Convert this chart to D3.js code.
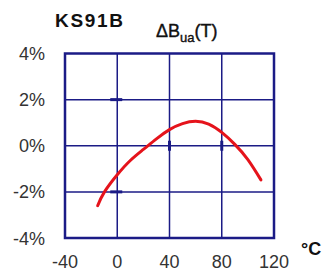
<!DOCTYPE html>
<html>
<head>
<meta charset="utf-8">
<script src="https://cdn.jsdelivr.net/npm/d3@7"></script>
<style>
  body { margin: 0; background: #fff; }
  text { font-family: "Liberation Sans", Arial, sans-serif; }
</style>
</head>
<body>
<div id="app"></div>
<script>
// curve
let temps  = [-15, -10, 0, 10, 20, 30, 40, 50, 60, 70, 80, 90, 100, 110];
let deltas = [-2.6, -2.02, -1.26, -0.64, -0.16, 0.3, 0.7, 0.96, 1.06, 0.94, 0.58, 0.06, -0.6, -1.48];
let xTicks = [-40, 0, 40, 80, 120];
let yTicks = [-4, -2, 0, 2, 4];

let width = 325, height = 272;
let gridColor = '#1b1b86';

let x = d3.scaleLinear().domain([-40, 120]).range([65, 274]);
let y = d3.scaleLinear().domain([-4, 4]).range([238, 53.5]);

let svg = d3.select('#app').append('svg')
    .attr('width', width)
    .attr('height', height);

// inner grid
svg.append('g').selectAll('line')
    .data(xTicks.slice(1, -1))
    .enter().append('line')
      .attr('x1', d => x(d)).attr('x2', d => x(d))
      .attr('y1', y(4)).attr('y2', y(-4))
      .style('stroke', gridColor).style('stroke-width', 1.5);

svg.append('g').selectAll('line')
    .data(yTicks.slice(1, -1))
    .enter().append('line')
      .attr('x1', x(-40)).attr('x2', x(120))
      .attr('y1', d => y(d)).attr('y2', d => y(d))
      .style('stroke', gridColor).style('stroke-width', 1.5);

// little tick marks on the zero axes
svg.append('g').selectAll('line')
    .data([-2, 2])
    .enter().append('line')
      .attr('x1', x(0) - 7).attr('x2', x(0) + 5)
      .attr('y1', d => y(d)).attr('y2', d => y(d))
      .style('stroke', gridColor).style('stroke-width', 3);

svg.append('g').selectAll('line')
    .data([40, 80])
    .enter().append('line')
      .attr('x1', d => x(d)).attr('x2', d => x(d))
      .attr('y1', y(0) - 5).attr('y2', y(0) + 5)
      .style('stroke', gridColor).style('stroke-width', 3);

// frame
svg.append('rect')
    .attr('x', x(-40)).attr('y', y(4))
    .attr('width', x(120) - x(-40))
    .attr('height', y(-4) - y(4))
    .style('fill', 'none')
    .style('stroke', gridColor)
    .style('stroke-width', 2.5);

// tick labels
svg.append('g').selectAll('text')
    .data(yTicks)
    .enter().append('text')
      .attr('x', 45)
      .attr('y', d => y(d) + 6.5)
      .attr('text-anchor', 'end')
      .style('font-size', '18px')
      .style('fill', '#333')
      .text(d => d + '%');

svg.append('g').selectAll('text')
    .data(xTicks)
    .enter().append('text')
      .attr('x', d => x(d))
      .attr('y', 268)
      .attr('text-anchor', 'middle')
      .style('font-size', '18px')
      .style('fill', '#333')
      .text(d => d);

svg.append('text')
    .attr('x', 301).attr('y', 255)
    .style('font-size', '18px')
    .style('font-weight', 'bold')
    .style('fill', '#111')
    .text('°C');

// titles
svg.append('text')
    .attr('x', 55).attr('y', 26.5)
    .attr('textLength', 68)
    .style('font-size', '19px')
    .style('font-weight', 'bold')
    .style('fill', '#111')
    .text('KS91B');

let sub = svg.append('text')
    .attr('x', 156).attr('y', 36.5)
    .style('font-size', '18px')
    .style('fill', '#111')
    .style('stroke', '#111')
    .style('stroke-width', 0.4);
sub.append('tspan').text('ΔB');
sub.append('tspan').attr('dy', 5).style('font-size', '13px').text('ua');
sub.append('tspan').attr('dy', -5).text('(T)');

// the curve
let line = d3.line()
    .x((d, i) => x(temps[i]))
    .y(d => y(d))
    .curve(d3.curveNatural);

svg.append('path')
    .datum(deltas)
    .attr('d', line)
    .style('fill', 'none')
    .style('stroke', '#e5131b')
    .style('stroke-width', 3)
    .style('stroke-linecap', 'round');
</script>
</body>
</html>
